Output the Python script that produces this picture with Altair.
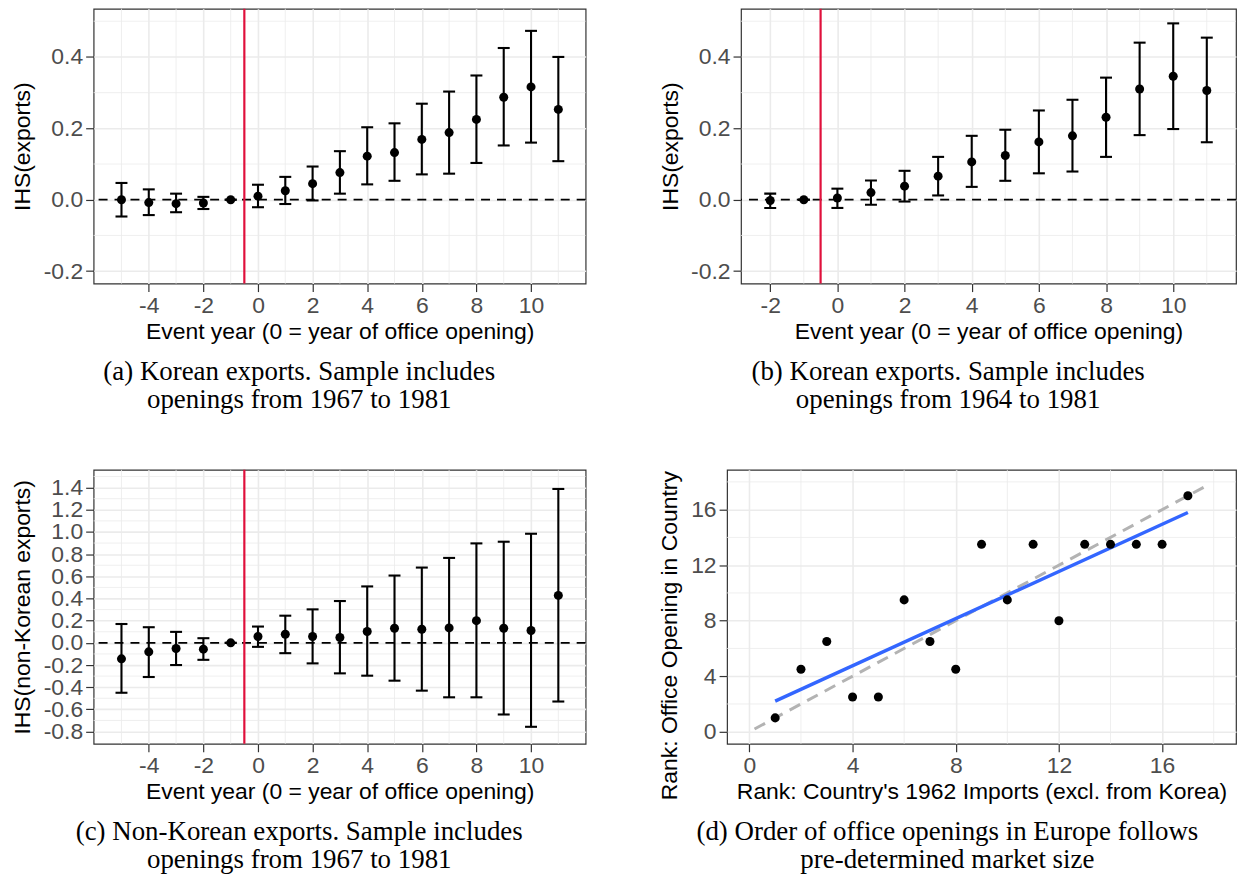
import altair as alt
import pandas as pd

# ---------------- data ----------------
# Panel (a): Korean exports, openings 1967-1981
event_a = [-5, -4, -3, -2, -1, 0, 1, 2, 3, 4, 5, 6, 7, 8, 9, 10, 11]
est_a = [0.000, -0.008, -0.011, -0.009, 0.000, 0.010, 0.025, 0.045, 0.076, 0.122, 0.132, 0.169, 0.188, 0.225, 0.287, 0.316, 0.253]
lo_a = [-0.047, -0.043, -0.035, -0.026, 0.000, -0.021, -0.012, -0.002, 0.017, 0.043, 0.053, 0.071, 0.073, 0.103, 0.152, 0.160, 0.108]
hi_a = [0.047, 0.029, 0.017, 0.008, 0.000, 0.042, 0.064, 0.093, 0.136, 0.203, 0.214, 0.269, 0.303, 0.348, 0.425, 0.473, 0.400]

# Panel (b): Korean exports, openings 1964-1981
event_b = [-2, -1, 0, 1, 2, 3, 4, 5, 6, 7, 8, 9, 10, 11]
est_b = [-0.002, 0.000, 0.005, 0.020, 0.038, 0.066, 0.106, 0.124, 0.162, 0.179, 0.231, 0.310, 0.346, 0.306]
lo_b = [-0.023, 0.000, -0.023, -0.014, -0.005, 0.012, 0.036, 0.053, 0.074, 0.079, 0.120, 0.181, 0.198, 0.161]
hi_b = [0.017, 0.000, 0.031, 0.054, 0.081, 0.120, 0.179, 0.196, 0.250, 0.280, 0.342, 0.440, 0.494, 0.454]

# Panel (c): Non-Korean exports
event_c = [-5, -4, -3, -2, -1, 0, 1, 2, 3, 4, 5, 6, 7, 8, 9, 10, 11]
est_c = [-0.144, -0.081, -0.051, -0.057, 0.000, 0.057, 0.078, 0.057, 0.048, 0.102, 0.132, 0.123, 0.135, 0.200, 0.132, 0.111, 0.428]
lo_c = [-0.450, -0.308, -0.200, -0.153, 0.000, -0.036, -0.093, -0.185, -0.275, -0.296, -0.341, -0.431, -0.491, -0.491, -0.646, -0.757, -0.529]
hi_c = [0.170, 0.141, 0.099, 0.042, 0.000, 0.147, 0.245, 0.302, 0.377, 0.509, 0.607, 0.679, 0.766, 0.897, 0.912, 0.984, 1.388]

# Panel (d): ranks
rank_imports = [1, 2, 3, 4, 5, 6, 7, 8, 9, 10, 11, 12, 13, 14, 15, 16, 17]
rank_office = [1, 4.5, 6.5, 2.5, 2.5, 9.5, 6.5, 4.5, 13.5, 9.5, 13.5, 8, 13.5, 13.5, 13.5, 13.5, 17]
diag_ends = [0.2, 17.8]

# axis tick / grid values
xmaj_ac = [-4, -2, 0, 2, 4, 6, 8, 10]
xmin_ac = [-5, -3, -1, 1, 3, 5, 7, 9, 11]
xmaj_b = [-2, 0, 2, 4, 6, 8, 10]
xmin_b = [-1, 1, 3, 5, 7, 9, 11]
ymaj_ab = [-0.2, 0.0, 0.2, 0.4]
ymin_ab = [-0.1, 0.1, 0.3, 0.5]
ymaj_c = [-0.8, -0.6, -0.4, -0.2, 0.0, 0.2, 0.4, 0.6, 0.8, 1.0, 1.2, 1.4]
ymin_c = [-0.7, -0.5, -0.3, -0.1, 0.1, 0.3, 0.5, 0.7, 0.9, 1.1, 1.3, 1.5]
dmaj = [0, 4, 8, 12, 16]
dmin = [2, 6, 10, 14, 18]

ZERO = 0
CUTOFF = -0.5

captions = {
    "a": ["(a) Korean exports. Sample includes", "openings from 1967 to 1981"],
    "b": ["(b) Korean exports. Sample includes", "openings from 1964 to 1981"],
    "c": ["(c) Non-Korean exports. Sample includes", "openings from 1967 to 1981"],
    "d": ["(d) Order of office openings in Europe follows", "pre-determined market size"],
}

SANS = "Liberation Sans"
GRID = "#ebebeb"
RED = "#e0103c"
XTITLE = "Event year (0 = year of office opening)"


def signed(fmt):
    return "(datum.value < 0 ? '-' : '') + format(abs(datum.value), '%s')" % fmt


def caption(key):
    return alt.TitleParams(text=captions[key], orient="bottom", anchor="middle",
                           frame="bounds", offset=16, baseline="top", lineHeight=28)


def event_panel(t, est, lo, hi, xdom, ydom, xmaj, xmin_, ymaj, ymin_, ytitle, width, height, key):
    df = pd.DataFrame({"t": t, "est": est, "lo": lo, "hi": hi})

    def X():
        return alt.X("t:Q", scale=alt.Scale(domain=xdom, nice=False, zero=False),
                     axis=alt.Axis(values=xmaj, title=XTITLE, labelExpr=signed("d"),
                                   titleY=48, titleBaseline="middle"))

    def Y(f):
        return alt.Y(f + ":Q", scale=alt.Scale(domain=ydom, nice=False, zero=False),
                     axis=alt.Axis(values=ymaj, title=ytitle, labelExpr=signed(".1f"),
                                   titleX=-71, titleBaseline="middle"))

    gx = alt.Chart(pd.DataFrame({"t": xmin_})).mark_rule(color=GRID, strokeWidth=0.8).encode(x=X())
    gy = alt.Chart(pd.DataFrame({"est": ymin_})).mark_rule(color=GRID, strokeWidth=0.8).encode(y=Y("est"))
    zero = alt.Chart(pd.DataFrame({"est": [ZERO]})).mark_rule(
        color="black", strokeWidth=1.8, strokeDash=[9, 7]).encode(y=Y("est"))
    cut = alt.Chart(pd.DataFrame({"t": [CUTOFF]})).mark_rule(color=RED, strokeWidth=2.2).encode(x=X())
    bars = alt.Chart(df).mark_rule(color="black", strokeWidth=2.1, opacity=1).encode(
        x=X(), y=Y("lo"), y2="hi:Q")
    cap_lo = alt.Chart(df).mark_tick(orient="horizontal", size=12, thickness=2.1,
                                     color="black", opacity=1).encode(x=X(), y=Y("lo"))
    cap_hi = alt.Chart(df).mark_tick(orient="horizontal", size=12, thickness=2.1,
                                     color="black", opacity=1).encode(x=X(), y=Y("hi"))
    pts = alt.Chart(df).mark_circle(size=82, color="black", opacity=1).encode(x=X(), y=Y("est"))
    return alt.layer(gx, gy, zero, cut, bars, cap_lo, cap_hi, pts).properties(
        width=width, height=height, title=caption(key))


pa = event_panel(event_a, est_a, lo_a, hi_a, [-6.02, 12.0], [-0.235, 0.535],
                 xmaj_ac, xmin_ac, ymaj_ab, ymin_ab, "IHS(exports)", 494, 276, "a")
pb = event_panel(event_b, est_b, lo_b, hi_b, [-2.87, 11.87], [-0.235, 0.535],
                 xmaj_b, xmin_b, ymaj_ab, ymin_ab, "IHS(exports)", 497, 276, "b")
pc = event_panel(event_c, est_c, lo_c, hi_c, [-6.02, 12.0], [-0.91, 1.56],
                 xmaj_ac, xmin_ac, ymaj_c, ymin_c, "IHS(non-Korean exports)", 494, 275, "c")

# ---- panel d ----
ddf = pd.DataFrame({"x": rank_imports, "y": rank_office})
ddom = [-0.865, 18.865]


def DX():
    return alt.X("x:Q", scale=alt.Scale(domain=ddom, nice=False, zero=False),
                 axis=alt.Axis(values=dmaj, title="Rank: Country's 1962 Imports (excl. from Korea)",
                               format="d", titleY=48, titleBaseline="middle"))


def DY():
    return alt.Y("y:Q", scale=alt.Scale(domain=ddom, nice=False, zero=False),
                 axis=alt.Axis(values=dmaj, title="Rank: Office Opening in Country",
                               format="d", titleX=-58, titleY=166, titleBaseline="middle"))


dgx = alt.Chart(pd.DataFrame({"x": dmin})).mark_rule(color=GRID, strokeWidth=0.8).encode(x=DX())
dgy = alt.Chart(pd.DataFrame({"y": dmin})).mark_rule(color=GRID, strokeWidth=0.8).encode(y=DY())
diag = alt.Chart(pd.DataFrame({"x": diag_ends, "y": diag_ends})).mark_line(
    color="#b3b3b3", strokeWidth=3, strokeDash=[12, 8]).encode(x=DX(), y=DY())
fit = alt.Chart(ddf).transform_regression("x", "y").mark_line(
    color="#3366ff", strokeWidth=3.5).encode(x=DX(), y=DY())
dpts = alt.Chart(ddf).mark_circle(size=82, color="black", opacity=1).encode(x=DX(), y=DY())
pd_ = alt.layer(dgx, dgy, diag, fit, dpts).properties(width=511, height=275, title=caption("d"))

row1 = alt.hconcat(pa, pb, spacing=71)
row2 = alt.hconcat(pc, pd_, spacing=70)

chart = alt.vconcat(row1, row2, spacing=54).properties(
    padding={"left": 11, "top": 5, "right": 0, "bottom": 0}
).configure_axis(
    labelFont=SANS, labelFontSize=23, labelColor="#4d4d4d", labelPadding=3,
    labelOverlap=False, labelFlush=False,
    titleFont=SANS, titleFontSize=23, titleColor="black", titleFontWeight="normal",
    tickColor="#333333", tickWidth=1.2, tickSize=8, domain=False,
    gridColor=GRID, gridWidth=1.6,
).configure_view(
    stroke="#333333", strokeWidth=1.2
).configure_title(
    font="Liberation Serif", fontSize=27, fontWeight="normal", color="black"
)

chart.save("out.html", embed_options={"renderer": "svg", "actions": False})
